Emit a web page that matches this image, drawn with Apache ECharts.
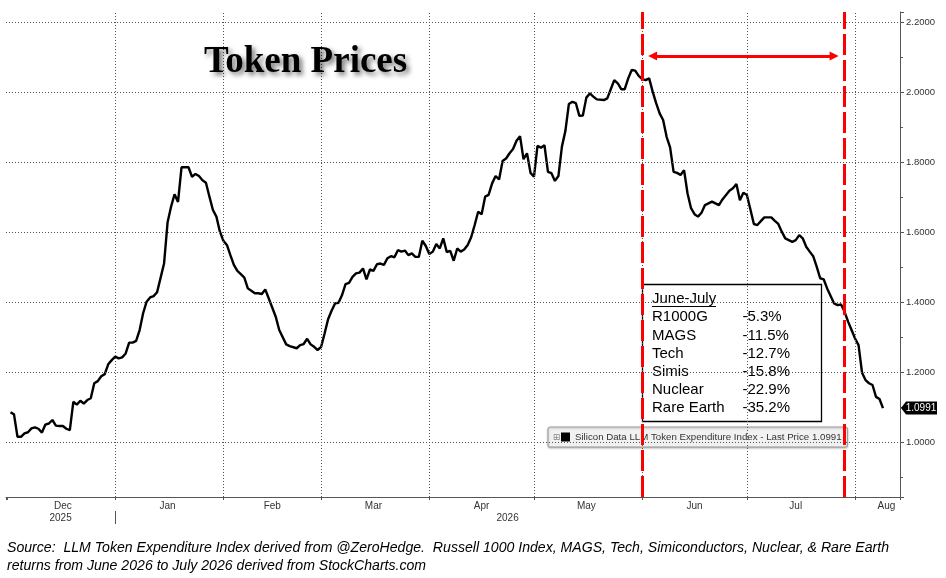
<!DOCTYPE html>
<html>
<head>
<meta charset="utf-8">
<title>Token Prices</title>
<script src="https://cdn.jsdelivr.net/npm/echarts@6/dist/echarts.min.js"></script>
<style>
html, body { margin: 0; padding: 0; background: #fff; }
#chart { width: 946px; height: 578px; }
</style>
</head>
<body>
<div id="chart"></div>
<script>
// Silicon Data LLM Token Expenditure Index: [day of month, price]
const dec2025 = [[2, 1.087], [3, 1.081], [4, 1.017], [5, 1.017], [6, 1.027], [7, 1.030], [8, 1.041], [9, 1.044],
    [10, 1.040], [11, 1.029], [12, 1.052], [13, 1.055], [14, 1.065], [15, 1.049], [16, 1.048], [17, 1.048],
    [18, 1.040], [19, 1.036], [20, 1.117], [21, 1.109], [22, 1.120], [23, 1.112], [24, 1.122], [25, 1.127],
    [26, 1.170], [27, 1.176], [28, 1.190], [29, 1.196], [30, 1.224], [31, 1.236]];
const jan2026 = [[1, 1.246], [2, 1.241], [3, 1.244], [4, 1.255], [5, 1.286], [6, 1.286], [7, 1.291], [8, 1.322],
    [9, 1.370], [10, 1.403], [11, 1.415], [12, 1.419], [13, 1.430], [14, 1.471], [15, 1.512], [16, 1.629],
    [17, 1.674], [18, 1.710], [19, 1.688], [20, 1.787], [21, 1.787], [22, 1.787], [23, 1.760], [24, 1.768],
    [25, 1.762], [26, 1.750], [27, 1.743], [28, 1.703], [29, 1.665], [30, 1.646], [31, 1.603]];
const feb2026 = [[1, 1.577], [2, 1.565], [3, 1.536], [4, 1.508], [5, 1.491], [6, 1.482], [7, 1.472], [8, 1.441],
    [9, 1.434], [10, 1.427], [11, 1.427], [12, 1.425], [13, 1.438], [14, 1.412], [16, 1.360], [17, 1.322],
    [19, 1.281], [20, 1.276], [22, 1.270], [23, 1.279], [24, 1.282], [25, 1.297], [26, 1.281], [27, 1.274],
    [28, 1.265]];
const mar2026 = [[1, 1.274], [2, 1.312], [3, 1.353], [4, 1.377], [5, 1.398], [6, 1.400], [7, 1.422], [8, 1.453],
    [9, 1.457], [10, 1.474], [11, 1.484], [12, 1.486], [13, 1.498], [14, 1.467], [15, 1.495], [16, 1.491],
    [17, 1.510], [18, 1.512], [19, 1.508], [20, 1.527], [21, 1.533], [22, 1.530], [23, 1.550], [24, 1.546],
    [25, 1.549], [26, 1.536], [27, 1.541], [28, 1.531], [29, 1.531], [30, 1.577], [31, 1.562]];
const apr2026 = [[1, 1.539], [2, 1.546], [3, 1.568], [4, 1.555], [5, 1.584], [6, 1.545], [7, 1.548], [8, 1.520],
    [9, 1.555], [10, 1.546], [11, 1.552], [12, 1.565], [13, 1.587], [14, 1.622], [15, 1.660], [16, 1.653],
    [17, 1.703], [18, 1.708], [19, 1.741], [20, 1.762], [21, 1.752], [22, 1.805], [23, 1.812], [24, 1.827],
    [25, 1.839], [26, 1.863], [27, 1.876], [28, 1.810], [29, 1.827], [30, 1.771]];
const may2026 = [[1, 1.760], [2, 1.848], [3, 1.843], [4, 1.850], [5, 1.774], [6, 1.770], [7, 1.748], [8, 1.762],
    [9, 1.846], [10, 1.891], [11, 1.968], [12, 1.974], [13, 1.970], [14, 1.934], [15, 1.935], [16, 1.986],
    [17, 1.998], [18, 1.989], [19, 1.981], [21, 1.979], [22, 1.984], [23, 2.010], [24, 2.036], [25, 2.027],
    [26, 2.010], [27, 2.010], [28, 2.041], [29, 2.065], [30, 2.063], [31, 2.048]];
const jun2026 = [[1, 2.039], [2, 2.036], [3, 2.041], [4, 2.003], [5, 1.970], [6, 1.941], [7, 1.922], [8, 1.874],
    [9, 1.844], [10, 1.774], [11, 1.771], [12, 1.765], [13, 1.779], [14, 1.712], [15, 1.670], [16, 1.653],
    [17, 1.646], [18, 1.657], [19, 1.679], [21, 1.689], [22, 1.684], [23, 1.679], [24, 1.695], [26, 1.720],
    [27, 1.727], [28, 1.739], [29, 1.693], [30, 1.714]];
const jul2026 = [[1, 1.708], [2, 1.667], [3, 1.625], [4, 1.622], [5, 1.633], [6, 1.644], [8, 1.644], [9, 1.634],
    [10, 1.625], [11, 1.603], [12, 1.584], [14, 1.574], [15, 1.579], [16, 1.593], [17, 1.584], [18, 1.560],
    [19, 1.546], [20, 1.533], [21, 1.503], [22, 1.470], [23, 1.467], [24, 1.441], [26, 1.398], [27, 1.393],
    [28, 1.395], [29, 1.374], [30, 1.346], [31, 1.322]];
const aug2026 = [[1, 1.298], [2, 1.279], [3, 1.200], [4, 1.179], [5, 1.170], [6, 1.165], [7, 1.131], [8, 1.125],
    [9, 1.0991]];

const months = [["2025-12", dec2025], ["2026-01", jan2026], ["2026-02", feb2026], ["2026-03", mar2026],
    ["2026-04", apr2026], ["2026-05", may2026], ["2026-06", jun2026], ["2026-07", jul2026], ["2026-08", aug2026]];

// axes
const yGridValues = [1.0, 1.2, 1.4, 1.6, 1.8, 2.0, 2.2];
const monthStarts = ["2026-01-01", "2026-02-01", "2026-03-01", "2026-04-01", "2026-05-01",
    "2026-06-01", "2026-07-01", "2026-08-01"];
const monthLabels = [["Dec", "2025-12-17"], ["Jan", "2026-01-16"], ["Feb", "2026-02-15"], ["Mar", "2026-03-16"],
    ["Apr", "2026-04-16"], ["May", "2026-05-16"], ["Jun", "2026-06-16"], ["Jul", "2026-07-15"], ["Aug", "2026-08-10"]];
const yearLabels = ["2025", "2026"];

// June-July window and the returns table
const periodStart = "2026-06-01";
const periodEnd = "2026-07-29";
const arrowFrom = "2026-06-04";
const arrowTo = "2026-07-26";
const arrowLevel = 2.105;
const boxTitle = "June-July";
const boxNames = ["R1000G", "MAGS", "Tech", "Simis", "Nuclear", "Rare Earth"];
const boxReturns = [-5.3, -11.5, -12.7, -15.8, -22.9, -35.2];

const seriesName = "Silicon Data LLM Token Expenditure Index";
const sourceLines = [
    "Source:  LLM Token Expenditure Index derived from @ZeroHedge.  Russell 1000 Index, MAGS, Tech, Simiconductors, Nuclear, & Rare Earth",
    "returns from June 2026 to July 2026 derived from StockCharts.com"
];

const HOUR = 3600 * 1000;
const DAY = 24 * HOUR;

function toTime(s)
{
    const p = s.split("-").map(Number);
    return new Date(p[0], p[1] - 1, p[2] || 1).getTime();
}

const X_MIN = toTime("2025-11-30") + 17 * HOUR;
const X_MAX = toTime("2026-08-13") + 21 * HOUR;
const Y_MIN = 0.845;
const Y_MAX = 2.2306;

const prices = [];
months.forEach(function (m)
{
    const p = m[0].split("-").map(Number);
    m[1].forEach(function (r)
    {
        prices.push([new Date(p[0], p[1] - 1, r[0]).getTime(), r[1]]);
    });
});
const lastPrice = prices[prices.length - 1][1];

const axisColor = "#555";
const labelFont = "Liberation Sans";

const chart = echarts.init(document.getElementById("chart"), null, { renderer: "canvas" });

const option = {
    animation: false,
    backgroundColor: "#fff",
    title: {
        text: "Token Prices",
        left: 204,
        top: 44,
        padding: 0,
        textStyle: {
            fontFamily: "Liberation Serif",
            fontWeight: "bold",
            fontSize: 37,
            color: "#000",
            textShadowColor: "rgba(0,0,0,0.55)",
            textShadowBlur: 5,
            textShadowOffsetX: 3,
            textShadowOffsetY: 3
        }
    },
    grid: { left: 6, right: 46, top: 12, bottom: 81 },
    legend: {
        data: [seriesName],
        left: 548,
        top: 427,
        z: 1,
        padding: [5, 6, 5, 13],
        selectedMode: false,
        icon: "rect",
        itemWidth: 9,
        itemHeight: 9,
        backgroundColor: "#f1f1f1",
        borderColor: "#9a9a9a",
        borderWidth: 1,
        borderRadius: 2,
        shadowColor: "rgba(0,0,0,0.25)",
        shadowBlur: 2,
        shadowOffsetY: 1,
        textStyle: { fontFamily: labelFont, fontSize: 9.7, color: "#333" },
        formatter: function (name) { return name + " - Last Price " + lastPrice.toFixed(4); }
    },
    xAxis: {
        type: "time",
        min: X_MIN,
        max: X_MAX,
        minInterval: 28 * DAY,
        maxInterval: 31 * DAY,
        axisLine: { lineStyle: { color: axisColor, width: 1 } },
        axisTick: { show: true, length: 3, lineStyle: { color: axisColor } },
        axisLabel: { show: false },
        splitLine: { show: false }
    },
    yAxis: {
        type: "value",
        position: "right",
        min: Y_MIN,
        max: Y_MAX,
        splitNumber: 7,
        axisLine: { show: true, lineStyle: { color: axisColor, width: 1 } },
        axisTick: { show: true, length: 4, lineStyle: { color: axisColor } },
        minorTick: { show: true, splitNumber: 2, length: 3, lineStyle: { color: axisColor } },
        axisLabel: {
            margin: 6,
            color: "#333",
            fontFamily: labelFont,
            fontSize: 9.5,
            formatter: function (v)
            {
                return Math.abs(v * 5 - Math.round(v * 5)) < 1e-6 ? v.toFixed(4) : "";
            }
        },
        splitLine: { show: false }
    },
    series: [
        {
            // dotted grid, drawn under everything
            name: "grid",
            type: "line",
            data: [],
            z: 0,
            silent: true,
            markLine: {
                silent: true,
                animation: false,
                symbol: ["none", "none"],
                label: { show: false },
                lineStyle: { type: [1, 2], color: "#555", width: 1 },
                data: yGridValues.map(function (v) { return { yAxis: v }; })
                    .concat(monthStarts.map(function (s) { return { xAxis: toTime(s) }; }))
            }
        },
        {
            name: seriesName,
            type: "line",
            data: prices,
            z: 2,
            showSymbol: false,
            symbol: "none",
            lineStyle: { color: "#000", width: 2.4 },
            itemStyle: { color: "#000" },
            markPoint: {
                silent: true,
                animation: false,
                symbol: "path://M0,6L5,0L36,0L36,12L5,12Z",
                symbolSize: [36, 13],
                symbolKeepAspect: false,
                symbolOffset: [19, 0],
                itemStyle: { color: "#000" },
                label: {
                    show: true,
                    position: "inside",
                    offset: [2, 0],
                    color: "#fff",
                    fontFamily: labelFont,
                    fontSize: 10,
                    formatter: function (p) { return p.value.toFixed(4); }
                },
                data: [{ coord: [X_MAX - 1, lastPrice], value: lastPrice }]
            }
        },
        {
            name: "window",
            type: "line",
            data: [],
            z: 3,
            silent: true,
            markLine: {
                silent: true,
                animation: false,
                symbol: ["none", "none"],
                label: { show: false },
                lineStyle: { color: "#ff0000", width: 3, type: [21, 5] },
                data: [
                    { xAxis: toTime(periodStart) },
                    { xAxis: toTime(periodEnd) },
                    [
                        {
                            coord: [toTime(arrowFrom), arrowLevel], symbol: "triangle", symbolSize: [9, 9],
                            lineStyle: { color: "#ff0000", width: 3, type: "solid" }
                        },
                        {
                            coord: [toTime(arrowTo), arrowLevel], symbol: "triangle", symbolSize: [9, 9],
                            lineStyle: { color: "#ff0000", width: 3, type: "solid" }
                        }
                    ]
                ]
            }
        }
    ]
};

chart.setOption(option);

// texts placed through the x scale
function px(t)
{
    return chart.convertToPixel({ xAxisIndex: 0 }, t);
}

const axisText = { fontFamily: labelFont, fontSize: 10, fill: "#333", align: "center", verticalAlign: "middle" };
const graphics = [];

monthLabels.forEach(function (m)
{
    graphics.push({ type: "text", x: px(toTime(m[1])), y: 506, silent: true, style: Object.assign({ text: m[0] }, axisText) });
});

const yearStart = toTime("2026-01-01");
graphics.push({ type: "text", x: (px(X_MIN) + px(yearStart)) / 2, y: 518, silent: true, style: Object.assign({ text: yearLabels[0] }, axisText) });
graphics.push({ type: "text", x: (px(yearStart) + px(X_MAX)) / 2, y: 518, silent: true, style: Object.assign({ text: yearLabels[1] }, axisText) });
graphics.push({
    type: "line", silent: true,
    shape: { x1: Math.round(px(yearStart)) + 0.5, y1: 511, x2: Math.round(px(yearStart)) + 0.5, y2: 524 },
    style: { stroke: axisColor, lineWidth: 1 }
});

// legend expander glyph
graphics.push({
    type: "text", x: 556.5, y: 438, silent: true, z: 5,
    style: { text: "\u229E", fontFamily: "DejaVu Sans", fontSize: 9, fill: "#8a8a8a", align: "center", verticalAlign: "middle" }
});

// returns box
const boxChildren = [
    { type: "rect", shape: { x: 642.5, y: 284.5, width: 179, height: 137 }, style: { fill: "#fff", stroke: "#000", lineWidth: 1.3 } },
    { type: "text", x: 652, y: 299, style: { text: boxTitle, fontFamily: labelFont, fontSize: 15, fill: "#000", verticalAlign: "middle" } },
    { type: "line", shape: { x1: 652, y1: 306.5, x2: 716, y2: 306.5 }, style: { stroke: "#000", lineWidth: 1 } }
];
boxNames.forEach(function (n, i)
{
    const y = 317.3 + i * 18.1;
    boxChildren.push({ type: "text", x: 652, y: y, style: { text: n, fontFamily: labelFont, fontSize: 15, fill: "#000", verticalAlign: "middle" } });
    boxChildren.push({ type: "text", x: 742.5, y: y, style: { text: boxReturns[i].toFixed(1) + "%", fontFamily: labelFont, fontSize: 15, fill: "#000", verticalAlign: "middle" } });
});
graphics.push({ type: "group", z: 10, silent: true, children: boxChildren });

// source note
graphics.push({
    type: "text", x: 7, y: 539, silent: true,
    style: {
        text: sourceLines.join("\n"),
        fontFamily: labelFont,
        fontStyle: "italic",
        fontSize: 14.1,
        lineHeight: 18,
        fill: "#000",
        verticalAlign: "top"
    }
});

chart.setOption({ graphic: graphics });
</script>
</body>
</html>
